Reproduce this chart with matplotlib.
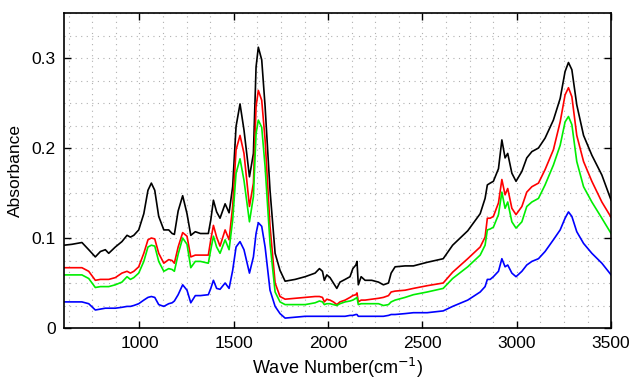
import numpy as np
import matplotlib
matplotlib.use("Agg")
from matplotlib import pyplot as plt
from matplotlib.ticker import MultipleLocator, FuncFormatter

plt.rcParams['font.family'] = ['Liberation Sans', 'DejaVu Sans']

# wave numbers (cm^-1)
wn = [600, 642, 695, 731, 766, 793, 819, 837, 872, 907, 934, 952, 970, 996,
      1023, 1045, 1063, 1081, 1102, 1129, 1155, 1173, 1185, 1205, 1229, 1252,
      1272, 1296, 1323, 1365, 1378, 1392, 1409, 1427, 1454, 1475, 1494, 1512,
      1533, 1554, 1583, 1604, 1618, 1630, 1648, 1666, 1692, 1719, 1745, 1772,
      1825, 1878, 1931, 1954, 1970, 1980, 1993, 2010, 2028, 2046, 2063, 2090,
      2116, 2131, 2147, 2153, 2160, 2175, 2196, 2231, 2267, 2293, 2320, 2334,
      2355, 2408, 2452,
      2525, 2610, 2660, 2740, 2806, 2832, 2844, 2859,
      2876, 2903, 2921, 2938, 2952, 2974, 2996, 3027, 3053, 3080, 3115, 3150,
      3194, 3230, 3256, 3274, 3292, 3318, 3354, 3398, 3451, 3500]

black = [.092, .093, .095, .087, .079, .085, .087, .083, .090, .096, .103, .101, .103, .109,
         .127, .153, .161, .153, .124, .109, .109, .105, .104, .130, .147, .127,
         .103, .107, .105, .105, .120, .142, .129, .122, .138, .128, .157, .224,
         .249, .220, .168, .194, .290, .312, .298, .246, .153, .083, .064, .052,
         .054, .057, .061, .066, .063, .053, .059, .056, .050, .044, .051, .054,
         .057, .066, .070, .074, .048, .057, .053, .053, .051, .048, .050, .061,
         .068, .069, .069,
         .073, .077, .092, .108, .127, .144, .159, .161,
         .163, .177, .209, .189, .194, .172, .163, .174, .189, .196, .200, .211,
         .231, .255, .285, .295, .287, .248, .214, .192, .170, .142]

red = [.067, .067, .067, .063, .053, .054, .054, .054, .056, .061, .063, .061, .063, .068,
       .083, .098, .100, .099, .083, .072, .076, .075, .072, .090, .106, .102,
       .079, .081, .081, .081, .098, .114, .101, .091, .109, .098, .135, .198,
       .214, .194, .135, .161, .246, .264, .253, .209, .113, .050, .035, .032,
       .033, .034, .035, .035, .034, .029, .032, .031, .029, .026, .029, .031,
       .034, .036, .037, .039, .029, .031, .031, .032, .033, .034, .036, .040,
       .041, .042, .044,
       .047, .050, .062, .077, .090, .101, .122, .122,
       .124, .139, .165, .148, .155, .133, .126, .135, .151, .157, .161, .176,
       .198, .229, .259, .267, .257, .214, .185, .163, .140, .123]

green = [.059, .059, .059, .055, .045, .046, .046, .046, .048, .051, .057, .054, .056, .061,
         .074, .090, .092, .091, .074, .063, .066, .065, .063, .082, .100, .093,
         .067, .074, .074, .072, .087, .102, .090, .083, .098, .087, .120, .172,
         .188, .164, .118, .146, .216, .231, .223, .179, .094, .040, .029, .026,
         .026, .026, .028, .030, .029, .026, .027, .027, .026, .025, .027, .029,
         .030, .031, .033, .034, .026, .027, .027, .027, .027, .025, .026, .029,
         .031, .034, .037,
         .040, .044, .055, .068, .081, .092, .109, .110,
         .112, .126, .151, .133, .140, .118, .111, .118, .135, .140, .144, .159,
         .181, .203, .229, .235, .226, .185, .157, .140, .122, .105]

blue = [.029, .029, .029, .027, .020, .021, .022, .022, .022, .023, .024, .024, .025, .027,
        .031, .034, .035, .034, .026, .024, .027, .028, .030, .037, .048, .042,
        .028, .036, .036, .037, .044, .053, .044, .043, .050, .044, .064, .090,
        .096, .087, .061, .079, .105, .117, .113, .090, .042, .024, .016, .011,
        .012, .013, .013, .013, .013, .013, .013, .013, .013, .013, .013, .013,
        .014, .014, .015, .015, .013, .013, .013, .013, .013, .013, .014, .015,
        .015, .016, .017,
        .017, .019, .024, .031, .040, .046, .054, .054,
        .057, .063, .077, .068, .070, .061, .057, .063, .070, .074, .077, .085,
        .098, .109, .122, .129, .124, .107, .094, .083, .072, .059]

fig = plt.figure(figsize=(6.3, 3.83), dpi=100)
ax = fig.add_axes([0.1016, 0.1436, 0.8684, 0.8224])

for y, c in [(black, 'black'), (red, '#ff0000'), (green, '#00ee00'), (blue, '#0000ff')]:
    ax.plot(wn, y, color=c, lw=1.2)

ax.set_xlim(600, 3500)
ax.set_ylim(0, 0.35)
ax.xaxis.set_major_locator(MultipleLocator(500))
ax.xaxis.set_minor_locator(MultipleLocator(125))
ax.yaxis.set_major_locator(MultipleLocator(0.1))
ax.yaxis.set_minor_locator(MultipleLocator(0.025))
ax.yaxis.set_major_formatter(FuncFormatter(lambda v, p: '%g' % round(v, 3)))
ax.xaxis.set_major_formatter(FuncFormatter(lambda v, p: '' if v < 1000 else '%d' % v))

ax.grid(True, which='both', linestyle=(0, (1, 4)), color='#b0b0b0', lw=0.8)
ax.tick_params(which='major', direction='in', top=True, right=True, length=5,
               width=1, labelsize=12.5, pad=6)
ax.tick_params(which='minor', length=0)
for s in ax.spines.values():
    s.set_linewidth(1.2)

ax.set_xlabel('Wave Number(cm$^{-1}$)', fontsize=13, labelpad=3)
ax.set_ylabel('Absorbance', fontsize=12.5, labelpad=6)

fig.savefig('out.png', dpi=100)
